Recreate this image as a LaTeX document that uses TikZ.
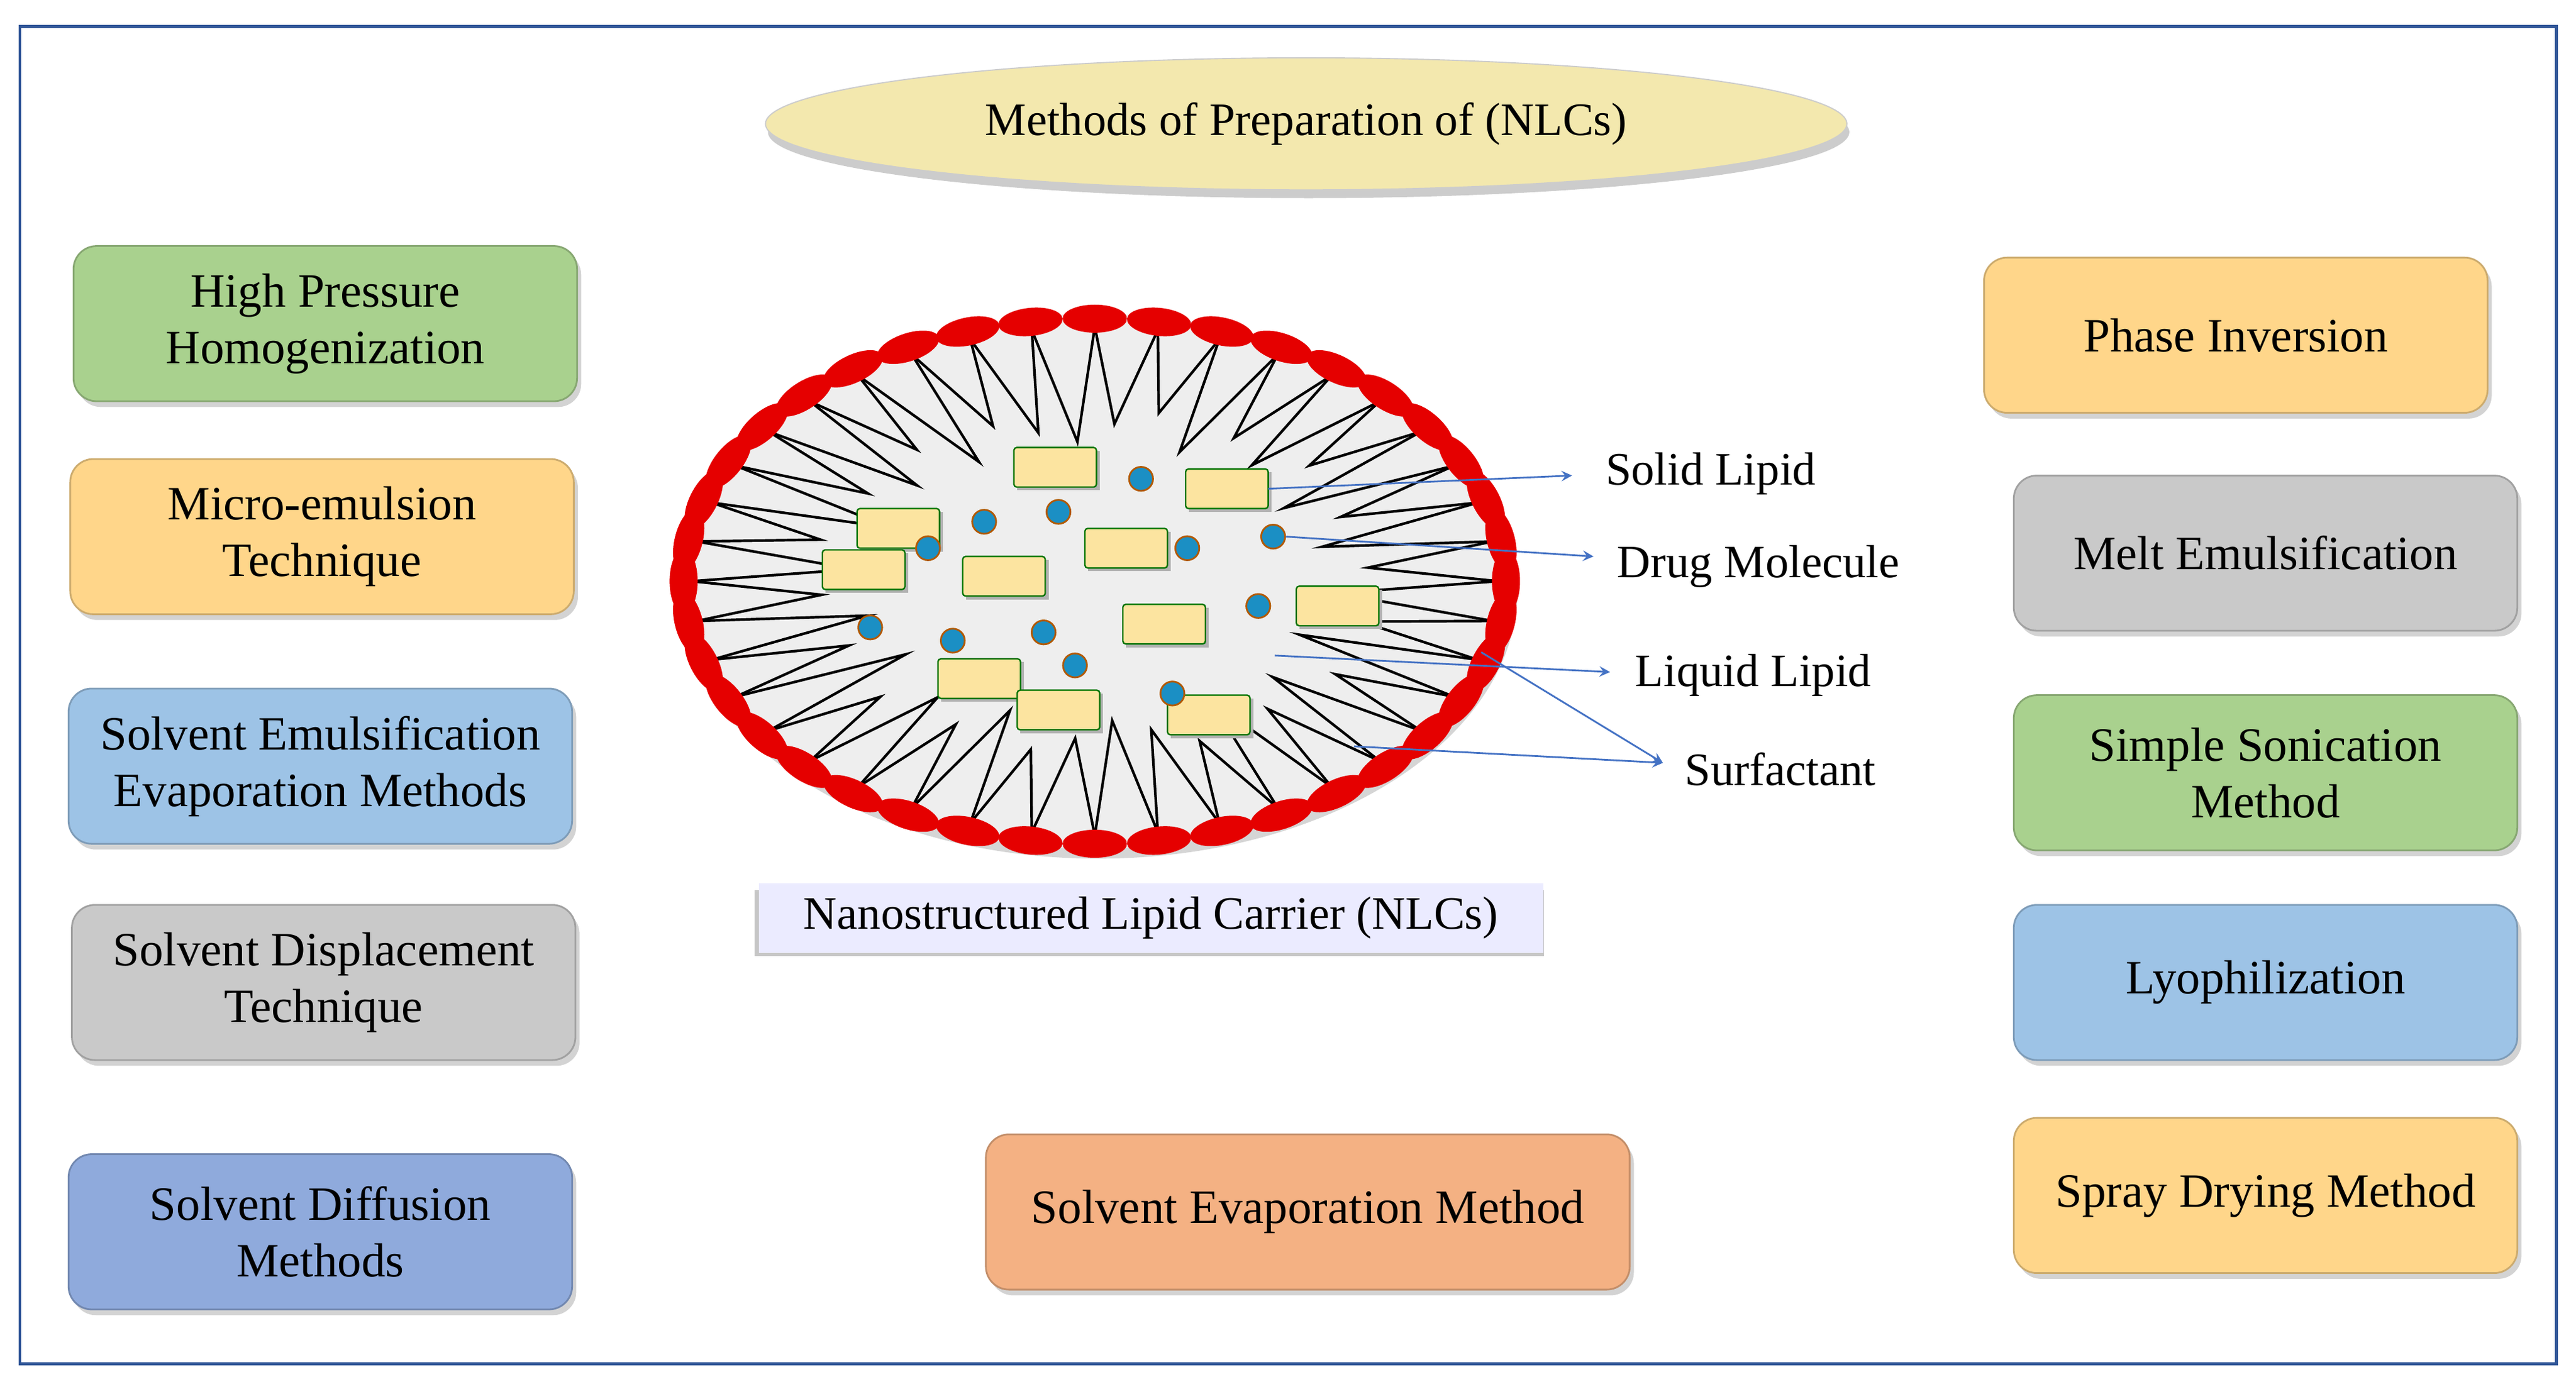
\documentclass[tikz,border=0pt]{standalone}
\usepackage{fontspec}
\setmainfont{Liberation Serif}
\usetikzlibrary{shapes.geometric, shadows, positioning}

\definecolor{frameblue}{HTML}{2F5597}
\definecolor{arrowblue}{HTML}{4472C4}
\definecolor{mgreen}{HTML}{A9D18E}
\definecolor{morange}{HTML}{FFD68A}
\definecolor{mblue}{HTML}{9DC3E6}
\definecolor{mgray}{HTML}{C9C9C9}
\definecolor{mpurple}{HTML}{8FAADC}
\definecolor{msalmon}{HTML}{F4B183}
\definecolor{mtitle}{HTML}{F3E8AE}
\definecolor{lipid}{HTML}{FCE4A0}
\definecolor{drug}{HTML}{1B8FC4}

\tikzset{
  method/.style={rounded corners=0.28cm, minimum width=6.1cm, minimum height=1.88cm,
    align=center, font=\fontsize{16.5}{19.5}\selectfont, fill=#1, draw=#1!80!black,
    line width=0.6pt, drop shadow={opacity=0.35, shadow xshift=0.05cm, shadow yshift=-0.07cm}},
  head/.style={ellipse, rotate=#1, minimum width=0.78cm, minimum height=0.34cm,
    inner sep=0pt, fill=red!90!black, draw=none},
  solid/.style={draw=green!45!black, fill=lipid, rounded corners=1pt, line width=0.5pt},
  mol/.style={circle, fill=drug, draw=orange!70!black, line width=0.6pt,
    minimum size=0.29cm, inner sep=0pt},
  pointer/.style={draw=arrowblue, line width=0.6pt, -stealth},
  tag/.style={anchor=west, font=\fontsize{16}{19}\selectfont, inner sep=0pt}
}

\begin{document}
\begin{tikzpicture}[x=0.02cm, y=-0.02cm]
\useasboundingbox (0,0) rectangle (1560,844);
\draw[frameblue, line width=1pt] (12,16) rectangle (1548,826);

% title
\node[ellipse, fill=mtitle, draw=gray!40, minimum width=13.1cm, minimum height=1.6cm,
  drop shadow={opacity=0.4, shadow xshift=0.03cm, shadow yshift=-0.1cm},
  font=\fontsize{16}{19}\selectfont] (title) at (791,75) {Methods of Preparation of (NLCs)};

% left column
\node[method=mgreen]  (hph)  at (197,196) {High Pressure\\Homogenization};
\node[method=morange] (mic)  at (195,325) {Micro-emulsion\\Technique};
\node[method=mblue]   (see)  at (194,464) {Solvent Emulsification\\Evaporation Methods};
\node[method=mgray]   (sdt)  at (196,595) {Solvent Displacement\\Technique};
\node[method=mpurple] (sdm)  at (194,746) {Solvent Diffusion\\Methods};

% bottom middle
\node[method=msalmon, minimum width=7.8cm] (sem) at (792,734) {Solvent Evaporation Method};

% right column
\node[method=morange] (phi)  at (1354,203) {Phase Inversion};
\node[method=mgray]   (mel)  at (1372,335) {Melt Emulsification};
\node[method=mgreen]  (son)  at (1372,468) {Simple Sonication\\Method};
\node[method=mblue]   (lyo)  at (1372,595) {Lyophilization};
\node[method=morange] (spr)  at (1372,724) {Spray Drying Method};

% particle
\fill[gray!55, opacity=0.6] (665,357) ellipse (254 and 163);
\fill[gray!13] (663,352) ellipse (252 and 162);
\foreach \t/\f in {0/0.6,9/0.68,18/0.55,27/0.7,36/0.58,45/0.66,54/0.55,63/0.68,72/0.6,
  81/0.55,90/0.62,99/0.68,108/0.55,117/0.66,126/0.6,135/0.7,144/0.55,153/0.66,162/0.58,
  171/0.68,180/0.6,189/0.7,198/0.55,207/0.66,216/0.58,225/0.68,234/0.55,243/0.66,
  252/0.6,261/0.55,270/0.62,279/0.68,288/0.55,297/0.66,306/0.6,315/0.7,324/0.55,
  333/0.66,342/0.58,351/0.68}{
  \draw[black, line width=0.9pt, line join=miter]
    ({663+244*cos(\t)},{352+154*sin(\t)})
    -- ({663+244*\f*cos(\t+4.5)},{352+154*\f*sin(\t+4.5)})
    -- ({663+244*cos(\t+9)},{352+154*sin(\t+9)});
}
\foreach \t in {0,9,...,351}{
  \pgfmathsetmacro{\ang}{atan2(-162*cos(\t),-252*sin(\t))}
  \node[head=\ang] at ({663+249*cos(\t)},{352+159*sin(\t)}) {};
}

% solid lipid blocks
\foreach \x/\y in {614/271,718/284,519/308,498/333,583/337,657/320,785/355,680/366,568/399,616/418,707/421}{
  \fill[gray!60] (\x+2,\y+2) rectangle ++(50,24);
  \draw[solid] (\x,\y) rectangle ++(50,24);
}
\foreach \x/\y in {691/290,641/310,596/316,562/332,719/332,527/380,577/388,632/383,651/403,762/367}{
  \node[mol] at (\x,\y) {};
}
\node[mol] (drugsrc) at (771,325) {};
\node[mol] at (710,420) {};

% source points
\coordinate (solidsrc) at (768,296);
\coordinate (liqsrc)  at (772,397);
\coordinate (surfa)   at (897,395);
\coordinate (surfb)   at (820,452);

% labels
\coordinate (solidtip) at (952,288);
\coordinate (drugtip)  at (965,337);
\coordinate (liqtip)   at (975,407);
\coordinate (surftip)  at (1007,462);
\node[tag] (solidlbl) at (972,287) {Solid Lipid};
\node[tag] (druglbl)  at (979,343) {Drug Molecule};
\node[tag] (liqlbl)   at (990,409) {Liquid Lipid};
\node[tag] (surflbl)  at (1020,466) {Surfactant};

\draw[pointer] (solidsrc) -- (solidtip);
\draw[pointer] (drugsrc.east) -- (drugtip);
\draw[pointer] (liqsrc) -- (liqtip);
\draw[pointer] (surfa) -- (surftip);
\draw[pointer] (surfb) -- (surftip);

% caption
\fill[gray!45] (457,539) rectangle (935,579);
\node[fill=blue!8, minimum width=9.5cm, minimum height=0.84cm, inner sep=0pt,
  font=\fontsize{16}{19}\selectfont] (cap) at (697,556) {Nanostructured Lipid Carrier (NLCs)};
\end{tikzpicture}
\end{document}
